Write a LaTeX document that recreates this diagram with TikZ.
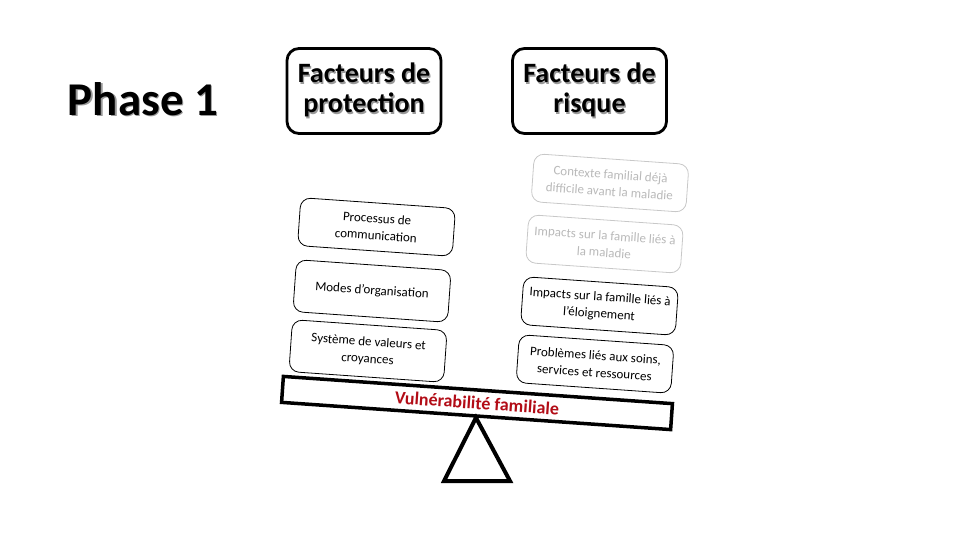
\documentclass[tikz,border=0pt]{standalone}
\usepackage{fontspec}
\setmainfont{Carlito}
\definecolor{faded}{RGB}{200,200,200}
\definecolor{fadedtext}{RGB}{185,185,185}
\definecolor{vulnred}{RGB}{178,12,22}
\newcommand\shad[1]{\makebox[0pt][l]{\raisebox{-1.3pt}{\hspace{1.3pt}\textcolor{black!40}{#1}}}#1}
\tikzset{
  topbox/.style={draw, line width=2.8pt, rounded corners=12pt, minimum width=154pt, minimum height=85pt,
    align=center, font=\bfseries\fontsize{28}{30}\selectfont, inner sep=0pt},
  factor/.style={draw, line width=0.8pt, rounded corners=10pt, minimum width=155pt, minimum height=48pt,
    align=center, font=\fontsize{13}{17}\selectfont, rotate=-4, inner sep=2pt},
  fadedfactor/.style={factor, draw=faded, text=fadedtext},
  beamstyle/.style={draw, line width=3.5pt, minimum width=390pt, minimum height=26pt, rotate=-4,
    inner sep=0pt, font=\bfseries\fontsize{18}{20}\selectfont, text=vulnred},
}
\begin{document}
\begin{tikzpicture}[x=1pt,y=-1pt]
\useasboundingbox (0,0) rectangle (960,540);
\node[font=\bfseries\fontsize{47}{50}\selectfont, inner sep=0pt] (phase) at (143,100) {\shad{Phase 1}};
\node[topbox] (prot) at (364,91) {\shad{Facteurs de}\\\shad{protection}};
\node[topbox] (risk) at (589.5,91) {\shad{Facteurs de}\\\shad{risque}};

\node[factor] (comm) at (376.5,227) {Processus de\\communication};
\node[factor, minimum height=52pt] (orga) at (372,291) {Modes d’organisation};
\node[factor, minimum height=52pt] (vals) at (368,351) {Système de valeurs et\\croyances};

\node[fadedfactor] (ctx) at (610,183) {Contexte familial déjà\\difficile avant la maladie};
\node[fadedfactor] (imal) at (604.5,244) {Impacts sur la famille liés à\\la maladie};
\node[factor] (iel) at (599.5,306) {Impacts sur la famille liés à\\l’éloignement};
\node[factor] (prob) at (595,364) {Problèmes liés aux soins,\\services et ressources};

\node[beamstyle] (beam) at (477,403) {Vulnérabilité familiale};
\draw[line width=4pt, line join=miter] (beam.south) -- (444,481) -- (510,481) -- cycle;
\end{tikzpicture}
\end{document}
